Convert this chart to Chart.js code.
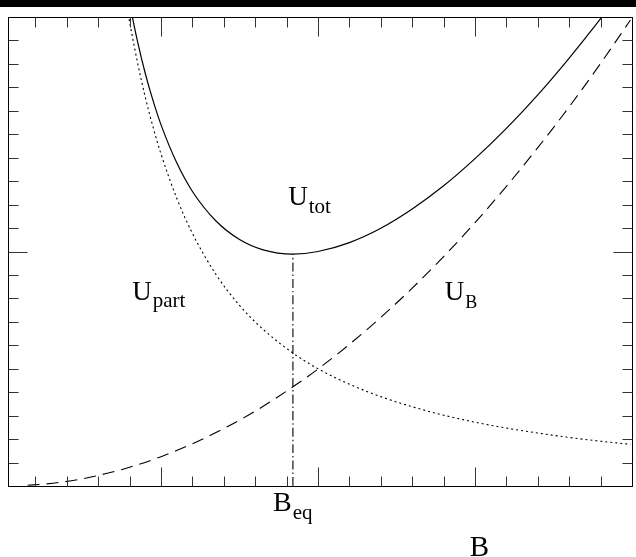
<!DOCTYPE html>
<html>
<head>
<meta charset="utf-8">
<script src="https://cdn.jsdelivr.net/npm/chart.js@4"></script>
<style>
  html, body { margin: 0; padding: 0; background: #fff; }
  canvas { display: block; }
</style>
</head>
<body>
<canvas id="chart" width="636" height="557"></canvas>
<script>
(function () {
  "use strict";

  // magnetic field B (x) and energy densities
  const bTot = [0.78, 0.8, 0.85, 0.9, 0.95, 1.0, 1.1, 1.2, 1.35, 1.5, 1.65, 1.84, 2.0, 2.2, 2.4, 2.6, 2.8, 3.0, 3.2, 3.4, 3.6, 3.8, 3.9];
  const uTot = [2.130, 2.058, 1.896, 1.758, 1.641, 1.540, 1.378, 1.256, 1.130, 1.051, 1.007, 0.989, 1.000, 1.038, 1.099, 1.181, 1.280, 1.396, 1.525, 1.668, 1.825, 1.993, 2.082];

  const bPart = [0.78, 0.8, 0.85, 0.9, 0.95, 1.0, 1.1, 1.2, 1.35, 1.5, 1.65, 1.84, 2.0, 2.2, 2.4, 2.6, 2.8, 3.0, 3.2, 3.4, 3.6, 3.8, 3.99];
  const uPart = [2.054, 1.978, 1.806, 1.657, 1.528, 1.415, 1.227, 1.077, 0.902, 0.770, 0.668, 0.567, 0.500, 0.434, 0.381, 0.338, 0.302, 0.272, 0.247, 0.226, 0.207, 0.191, 0.178];

  const bField = [0.15, 0.25, 0.35, 0.5, 0.65, 0.8, 1.0, 1.2, 1.4, 1.6, 1.84, 2.0, 2.2, 2.4, 2.6, 2.8, 3.0, 3.2, 3.4, 3.6, 3.8, 3.99];
  const uField = [0.003, 0.008, 0.015, 0.031, 0.053, 0.080, 0.125, 0.180, 0.245, 0.319, 0.423, 0.499, 0.604, 0.719, 0.844, 0.978, 1.123, 1.278, 1.443, 1.617, 1.802, 1.987];

  const bEq = 1.84;
  const uMin = 0.989;

  // tick marks (no numbers on the axes)
  const xTicks = [0.2, 0.4, 0.6, 0.8, 1, 1.2, 1.4, 1.6, 1.8, 2, 2.2, 2.4, 2.6, 2.8, 3, 3.2, 3.4, 3.6, 3.8];
  const xMajor = [1, 2, 3];
  const yTicks = [0.1, 0.2, 0.3, 0.4, 0.5, 0.6, 0.7, 0.8, 0.9, 1, 1.1, 1.2, 1.3, 1.4, 1.5, 1.6, 1.7, 1.8, 1.9];
  const yMajor = [1];

  const SERIF = "'Liberation Serif', 'DejaVu Serif', serif";

  const pts = (xs, ys) => xs.map((x, i) => ({ x: x, y: ys[i] }));

  function line(data, dash, width) {
    return {
      data: data, borderColor: "#000", backgroundColor: "transparent",
      borderWidth: width || 1.1, borderDash: dash, pointRadius: 0,
      cubicInterpolationMode: "monotone", clip: 0,
    };
  }

  function drawSub(ctx, main, sub, px, py, size, subSize, drop) {
    ctx.font = size + "px " + SERIF;
    ctx.fillText(main, px, py);
    const w = ctx.measureText(main).width;
    ctx.font = subSize + "px " + SERIF;
    ctx.fillText(sub, px + w + 1, py + drop);
  }

  const framePlugin = {
    id: "frame",
    beforeDraw(chart) {
      const ctx = chart.ctx;
      ctx.save();
      ctx.fillStyle = "#fff";
      ctx.fillRect(0, 0, chart.width, chart.height);
      ctx.fillStyle = "#000";
      ctx.fillRect(0, 0, chart.width, 7);
      ctx.restore();
    },
    afterDraw(chart) {
      const { ctx, chartArea: a, scales: { x, y } } = chart;
      ctx.save();
      ctx.strokeStyle = "#000";
      ctx.lineWidth = 1;
      ctx.strokeRect(a.left + 0.5, a.top + 0.5, a.right - a.left, a.bottom - a.top);

      ctx.strokeStyle = "#333";
      ctx.beginPath();
      xTicks.forEach((v) => {
        const px = Math.round(x.getPixelForValue(v)) + 0.5;
        const len = xMajor.includes(v) ? 19 : 10;
        ctx.moveTo(px, a.bottom + 0.5); ctx.lineTo(px, a.bottom + 0.5 - len);
        ctx.moveTo(px, a.top + 0.5); ctx.lineTo(px, a.top + 0.5 + len);
      });
      yTicks.forEach((v) => {
        const py = Math.round(y.getPixelForValue(v)) + 0.5;
        const len = yMajor.includes(v) ? 19 : 10;
        ctx.moveTo(a.left + 0.5, py); ctx.lineTo(a.left + 0.5 + len, py);
        ctx.moveTo(a.right + 0.5, py); ctx.lineTo(a.right + 0.5 - len, py);
      });
      ctx.stroke();

      // curve labels, placed in data units
      ctx.fillStyle = "#000";
      ctx.textBaseline = "alphabetic";
      drawSub(ctx, "U", "tot", x.getPixelForValue(1.81), y.getPixelForValue(1.198), 27, 21, 8);
      drawSub(ctx, "U", "part", x.getPixelForValue(0.816), y.getPixelForValue(0.793), 27, 21, 7);
      drawSub(ctx, "U", "B", x.getPixelForValue(2.807), y.getPixelForValue(0.793), 27, 18, 8);

      // axis annotations under the frame
      drawSub(ctx, "B", "eq", x.getPixelForValue(1.713), a.bottom + 25, 28, 21, 8);
      ctx.font = "29px " + SERIF;
      ctx.fillText("B", x.getPixelForValue(2.966), a.bottom + 70);
      ctx.restore();
    },
  };

  new Chart(document.getElementById("chart").getContext("2d"), {
    type: "line",
    data: {
      datasets: [
        line(pts(bTot, uTot), [], 1.2),
        line(pts(bPart, uPart), [2, 3]),
        line(pts(bField, uField), [12, 7]),
        line([{ x: bEq, y: 0 }, { x: bEq, y: uMin }], [9, 3, 1.5, 3]),
      ],
    },
    options: {
      responsive: false, animation: false,
      layout: { padding: { left: 8, right: 4, top: 17, bottom: 71 } },
      scales: {
        x: { type: "linear", min: 0.025, max: 4, display: false },
        y: { type: "linear", min: 0, max: 2, display: false },
      },
      plugins: { legend: { display: false }, tooltip: { enabled: false } },
    },
    plugins: [framePlugin],
  });
})();
</script>
</body>
</html>
